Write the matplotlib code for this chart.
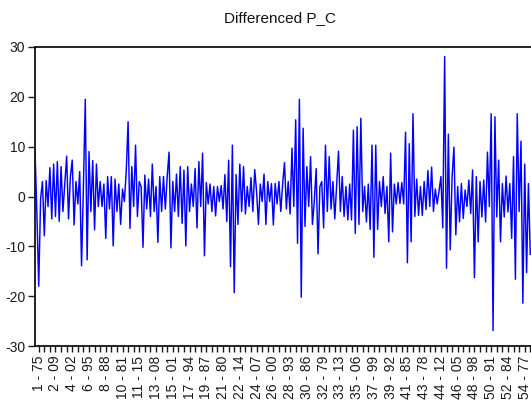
import numpy as np
import matplotlib
matplotlib.use("Agg")
import matplotlib.pyplot as plt

plt.rcParams['font.family'] = ['Liberation Sans', 'DejaVu Sans']

# First difference of P_C, one value per observation
d_pc = [
    9.3, -3.2, -18.0, -0.5, 3.0, -7.9, 3.2, -2.0, 5.8, -4.5,
    6.5, -4.0, 7.0, -5.0, 6.0, -3.0, 2.5, 8.1, -4.5, 4.0,
    7.3, -5.7, 3.0, -1.5, 5.0, -13.9, 2.0, 19.5, -12.7, 9.0,
    -3.0, 7.2, -6.7, 6.5, -2.0, 3.0, -2.0, 2.5, -8.4, 4.0,
    -2.5, 4.0, -9.9, 3.5, -3.0, 2.5, -5.6, 1.5, -1.0, 5.0,
    15.0, -6.4, 6.0, -2.0, 10.3, -4.0, 3.0, 2.0, -10.2, 4.3,
    -2.5, 3.5, -4.0, 6.5, -3.0, 2.0, -9.2, 4.0, -3.0, 4.0,
    -2.5, 4.0, 8.9, -10.3, 3.0, -3.0, 4.5, -4.0, 6.0, -5.4,
    5.3, -9.9, 6.0, -3.0, 2.5, -2.0, 5.6, -6.3, 7.0, -2.0,
    8.7, -11.9, 2.8, -1.5, 2.5, -3.0, 2.0, -3.9, 2.0, -1.0,
    2.2, -2.5, 4.4, -5.0, 7.3, -14.1, 10.3, -19.3, 4.4, -5.6,
    6.5, -3.0, 6.0, -3.5, 2.0, -2.0, 3.8, -3.0, 5.4, 1.0,
    -5.6, 2.5, -1.0, 4.5, -5.6, 3.0, -1.0, 2.6, -5.7, 2.6,
    -1.5, 3.0, -3.0, 2.5, 6.8, -2.5, 3.0, -3.5, 9.7, -2.0,
    15.4, -9.4, 19.5, -20.2, 13.7, -6.0, 6.0, -2.0, 8.0, -5.6,
    -1.0, 5.6, -11.5, 2.0, 3.0, -6.3, 10.3, -3.0, 8.0, -2.5,
    3.0, -4.5, 2.5, 9.1, -3.0, 4.0, -4.0, 2.0, -4.7, 2.5,
    -4.7, 13.3, -7.4, 14.0, -5.6, 15.7, -3.0, 2.0, -5.1, 2.5,
    -6.6, 10.3, -12.2, 10.3, -6.6, 3.0, -2.0, 4.0, -3.4, 2.0,
    -9.1, 8.7, -7.1, 2.5, -1.5, 2.8, -1.4, 2.8, -1.5, 12.9,
    -13.3, 10.6, -9.1, 16.6, -4.0, 3.5, -3.8, 2.0, -3.8, 3.0,
    -2.6, 5.2, -2.0, 5.9, -3.0, 1.5, -1.5, 1.1, 4.0, -6.3,
    28.1, -14.4, 12.5, -10.7, 4.0, 9.9, -7.7, 2.0, -5.1, 2.6,
    -4.4, 1.3, -2.0, 3.3, -3.4, 5.3, -16.3, 4.0, -9.1, 3.0,
    -4.1, 3.3, -5.1, 8.9, -2.0, 16.6, -26.9, 16.0, -4.1, 7.3,
    -9.1, 2.6, -4.1, 4.1, -3.1, 2.6, -8.4, 8.0, -16.6, 16.6,
    -3.0, 11.1, -21.4, 6.5, -15.3, 2.6, -11.6,
]

# Observation labels shown on the x axis
obs_labels = [
    "1 - 75", "2 - 09", "4 - 02", "6 - 95", "8 - 88", "10 - 81",
    "11 - 15", "13 - 08", "15 - 01", "17 - 94", "19 - 87", "21 - 80",
    "22 - 14", "24 - 07", "26 - 00", "28 - 93", "30 - 86", "32 - 79",
    "33 - 13", "35 - 06", "37 - 99", "39 - 92", "41 - 85", "43 - 78",
    "44 - 12", "46 - 05", "48 - 98", "50 - 91", "52 - 84", "54 - 77",
]
label_start = 2
label_step = 9
minor_step = 3

y_ticks = [-30, -20, -10, 0, 10, 20, 30]

W, H = 531, 404
fig = plt.figure(figsize=(W / 100, H / 100), dpi=100)
ax = fig.add_axes([35 / W, 1 - 346 / H, 1 - 35 / W, (346 - 47) / H])

x = np.arange(len(d_pc))
ax.plot(x, d_pc, color="#0000ff", lw=1.05)

ax.set_xlim(0, (W - 35) / 1.862)
ax.set_ylim(-30, 30)
ax.set_yticks(y_ticks)
ax.set_yticklabels([str(v) for v in y_ticks])

major = [label_start + k * label_step for k in range(len(obs_labels))]
ax.set_xticks(major)
ax.set_xticklabels(obs_labels, rotation=90)
ax.set_xticks(np.arange(label_start % minor_step, len(d_pc) + 1, minor_step),
              minor=True)

ax.tick_params(axis="y", direction="out", length=5, width=1, pad=2,
               labelsize=10, colors="#1a1a1a")
ax.tick_params(axis="x", which="both", direction="out", length=4, width=1,
               pad=3, labelsize=10, colors="#1a1a1a")

for side in ("left", "top", "bottom"):
    ax.spines[side].set_linewidth(1.3)
    ax.spines[side].set_color("#111111")
ax.spines["right"].set_visible(False)

fig.text(280 / W, 1 - 18 / H, "Differenced P_C", ha="center", va="center",
         fontsize=11, color="#111111")

fig.savefig("out.png", dpi=100)
